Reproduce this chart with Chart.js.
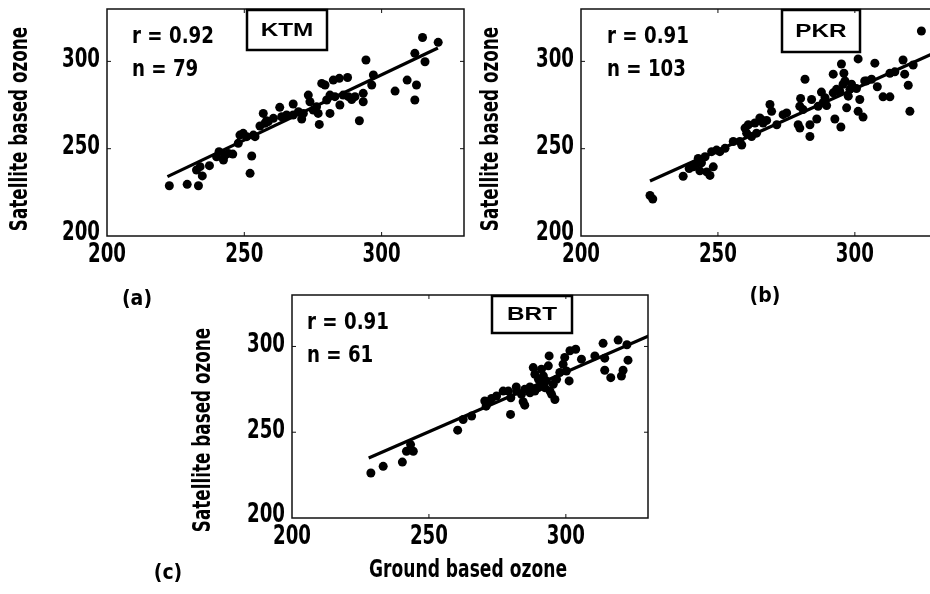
<!DOCTYPE html>
<html>
<head>
<meta charset="utf-8"/>
<title>Satellite vs ground based ozone</title>
<script src="https://cdn.jsdelivr.net/npm/chart.js"></script>
<style>
html, body { margin: 0; padding: 0; background: #fff; overflow: hidden; }
#wrap { position: relative; width: 930px; height: 594px; overflow: hidden; }
canvas { position: absolute; left: 0; top: 0; }
</style>
</head>
<body>
<div id="wrap">
  <canvas id="cA" width="930" height="594"></canvas>
  <canvas id="cB" width="950" height="594"></canvas>
  <canvas id="cC" width="930" height="594"></canvas>
</div>
<script>
// ---- data ----
const axisMin = 200;
const axisMax = 330;
const tickVals = [200, 250, 300];
const innerTicks = [250, 300];

// (a) KTM
const ktmGround = [222.7,229.2,233.3,234.7,233.9,237.3,240.8,242.4,243.0,245.8,248.4,250.9,252.1,252.7,253.9,256.9,257.5,258.7,262.9,263.6,267.8,267.8,270.9,273.3,273.9,276.9,277.3,278.2,281.2,281.2,282.4,284.6,284.8,287.6,287.9,290.3,291.9,293.3,294.3,296.4,297.0,304.9,309.3,312.1,312.7,312.1,315.8,314.9,320.6,249.6,247.8,255.7,260.6,265.4,269.7,275.1,280.0,283.0,286.0,239.9,244.2,271.5,279.4,293.3,258.1,253.3,276.3,289.1,232.6];
const ktmSat    = [228.8,229.6,228.8,234.4,239.7,240.3,248.3,243.5,246.4,246.9,257.8,256.9,235.9,245.8,256.9,270.2,264.5,265.5,273.7,268.3,275.6,269.3,267.0,280.7,276.9,270.2,263.9,287.4,270.2,280.7,289.3,290.3,275.0,290.8,279.8,279.8,266.0,276.9,300.8,286.5,292.2,283.0,289.3,277.9,286.5,304.6,299.8,313.7,310.9,258.8,253.1,263.0,267.4,269.3,271.2,272.1,277.9,279.8,280.7,245.4,247.3,270.2,286.5,281.7,266.0,257.8,274.0,278.2,237.8];
const ktmFitX = [222, 320.5];
const ktmFitY = [234, 307.7];

// (b) PKR
const pkrGround = [225.2,226.2,237.3,239.5,242.8,243.4,245.9,247.1,245.3,247.7,248.3,249.5,252.6,258.0,258.7,260.5,261.1,262.3,264.1,265.3,266.5,269.0,269.6,271.5,275.1,279.3,279.9,280.2,279.9,281.8,283.6,283.6,284.2,286.1,286.6,287.8,289.7,292.1,292.1,292.7,294.5,294.9,295.1,296.0,296.4,297.0,297.6,298.8,301.2,301.2,301.8,303.0,303.6,307.3,308.2,310.3,312.8,317.6,318.2,319.5,320.1,321.3,324.3,250.7,255.6,263.5,267.8,273.8,281.1,288.4,293.3,298.2,300.6,304.3,306.1,312.8,314.6,242.2,241.0,244.0,289.1,295.7,259.9,265.9];
const pkrSat    = [223.2,221.2,234.2,238.6,244.4,237.3,236.7,234.7,245.4,248.3,239.6,249.2,250.2,254.1,252.1,258.9,263.7,257.0,258.9,267.6,264.7,275.3,271.4,263.7,270.5,263.7,261.8,278.8,274.3,289.8,257.0,263.7,278.2,267.0,274.3,282.4,274.7,282.0,292.7,267.0,283.0,262.4,298.5,293.2,288.8,273.4,280.1,286.9,301.4,271.4,278.2,268.1,288.8,299.0,285.5,279.7,279.7,300.8,292.7,286.3,271.4,297.9,317.4,248.3,254.1,264.7,266.2,269.5,272.4,276.3,284.0,284.0,284.4,288.8,289.8,293.2,294.0,241.5,239.6,241.9,279.2,286.9,261.8,266.6];
const pkrFitX = [225.2, 330];
const pkrFitY = [231.5, 305.5];

// (c) BRT
const brtGround = [228.8,233.3,240.3,241.8,244.3,243.3,260.5,262.5,265.6,270.4,272.9,270.9,277.1,279.8,279.9,281.9,283.8,284.4,285.0,286.9,288.7,290.0,291.1,292.9,293.6,293.9,294.2,295.4,296.0,296.6,299.6,300.2,301.2,301.5,303.6,305.7,310.6,313.6,314.2,314.2,316.4,319.1,320.3,320.9,322.3,322.7,282.0,285.0,291.1,292.3,290.0,288.7,297.8,286.9,279.0,274.7,291.8,299.0,288.1,272.3,294.8];
const brtSat    = [226.2,230.1,232.6,238.9,238.9,242.8,251.2,257.4,259.4,268.2,269.7,265.2,274.0,260.4,270.1,276.4,272.1,267.8,265.8,276.4,283.8,276.0,286.7,279.9,288.7,294.5,274.0,277.9,269.1,280.9,293.6,285.7,279.9,297.5,298.4,292.6,294.5,301.8,293.2,286.1,281.8,303.7,282.8,286.1,301.0,292.0,274.0,275.0,279.9,276.0,280.9,274.0,284.8,273.0,274.0,271.1,282.8,289.6,287.7,268.2,272.1];
const brtFitX = [228, 330.3];
const brtFitY = [235, 306.1];

const FONT = '"DejaVu Sans", sans-serif';

function drawText(ctx, txt, x, y, font, sx, align, baseline, rot) {
  ctx.save();
  ctx.translate(x, y);
  if (rot) ctx.rotate(rot);
  ctx.scale(sx, 1);
  ctx.font = font;
  ctx.textAlign = align;
  ctx.textBaseline = baseline;
  ctx.fillStyle = '#000';
  ctx.fillText(txt, 0, 0);
  ctx.restore();
}

function makePanel(id, ground, sat, fitX, fitY, cfg) {
  const canvas = document.getElementById(id);
  const W = canvas.width, H = canvas.height;
  const pts = ground.map((g, i) => ({ x: g, y: sat[i] }));
  const fit = fitX.map((fx, i) => ({ x: fx, y: fitY[i] }));

  const panelDeco = {
    id: 'panelDeco',
    afterDraw(chart) {
      const ctx = chart.ctx;
      const a = chart.chartArea;
      const xs = chart.scales.x, ys = chart.scales.y;
      ctx.save();
      ctx.strokeStyle = '#111';
      ctx.lineWidth = 1.5;
      ctx.strokeRect(a.left, a.top, a.right - a.left, a.bottom - a.top);
      ctx.lineWidth = 1;
      ctx.beginPath();
      innerTicks.forEach(v => {
        const px = xs.getPixelForValue(v);
        ctx.moveTo(px, a.bottom); ctx.lineTo(px, a.bottom - 4);
        ctx.moveTo(px, a.top); ctx.lineTo(px, a.top + 4);
        const py = ys.getPixelForValue(v);
        ctx.moveTo(a.left, py); ctx.lineTo(a.left + 4, py);
        ctx.moveTo(a.right, py); ctx.lineTo(a.right - 4, py);
      });
      ctx.stroke();
      ctx.restore();

      const tickFont = 'bold 26px ' + FONT;
      tickVals.forEach(v => {
        drawText(ctx, String(v), xs.getPixelForValue(v), a.bottom + 19, tickFont, 0.70, 'center', 'middle');
        const py = ys.getPixelForValue(v) - (v === axisMin ? 3 : 1);
        drawText(ctx, String(v), a.left - 7, py, tickFont, 0.70, 'right', 'middle');
      });

      const annFont = 'bold 22.5px ' + FONT;
      drawText(ctx, 'r = ' + cfg.r, a.left + cfg.textDx, a.top + 34, annFont, 0.81, 'left', 'alphabetic');
      drawText(ctx, 'n = ' + cfg.n, a.left + cfg.textDx, a.top + 67, annFont, 0.81, 'left', 'alphabetic');

      ctx.save();
      ctx.strokeStyle = '#000';
      ctx.lineWidth = 2.5;
      ctx.strokeRect(cfg.site[0], cfg.site[1], cfg.site[2] - cfg.site[0], cfg.site[3] - cfg.site[1]);
      ctx.restore();
      drawText(ctx, cfg.name, (cfg.site[0] + cfg.site[2]) / 2, (cfg.site[1] + cfg.site[3]) / 2 + 1,
        'bold 18px "Liberation Sans", Arial, sans-serif', 1.35, 'center', 'middle');

      drawText(ctx, 'Satellite based ozone', cfg.ylab[0], cfg.ylab[1], 'bold 24px ' + FONT, 0.70, 'center', 'middle', -Math.PI / 2);
      drawText(ctx, cfg.tag, cfg.tagPos[0], cfg.tagPos[1], 'bold 21px ' + FONT, 0.9, 'center', 'middle');
      if (cfg.xlab) {
        drawText(ctx, 'Ground based ozone', cfg.xlab[0], cfg.xlab[1], 'bold 25px ' + FONT, 0.685, 'center', 'middle');
      }
    }
  };

  return new Chart(canvas, {
    type: 'scatter',
    data: {
      datasets: [{
        data: pts,
        pointRadius: 4.5,
        pointBackgroundColor: '#000',
        pointBorderWidth: 0
      }, {
        type: 'line',
        data: fit,
        borderColor: '#000',
        borderWidth: 3.2,
        pointRadius: 0,
        fill: false
      }]
    },
    options: {
      responsive: false,
      animation: false,
      events: [],
      layout: { padding: { left: cfg.box[0], top: cfg.box[1], right: W - cfg.box[2], bottom: H - cfg.box[3] } },
      plugins: { legend: { display: false }, tooltip: { enabled: false } },
      scales: {
        x: { type: 'linear', min: axisMin, max: axisMax, display: false },
        y: { type: 'linear', min: axisMin, max: axisMax, display: false }
      }
    },
    plugins: [panelDeco]
  });
}

makePanel('cA', ktmGround, ktmSat, ktmFitX, ktmFitY, {
  box: [107, 9, 464, 236], r: '0.92', n: '79', textDx: 25, name: 'KTM',
  site: [247, 10, 327, 50], ylab: [21, 129], tag: '(a)', tagPos: [137, 300]
});
makePanel('cB', pkrGround, pkrSat, pkrFitX, pkrFitY, {
  box: [581, 9, 937, 236], r: '0.91', n: '103', textDx: 26, name: 'PKR',
  site: [782, 10, 860, 52], ylab: [492, 129], tag: '(b)', tagPos: [765, 297]
});
makePanel('cC', brtGround, brtSat, brtFitX, brtFitY, {
  box: [292, 295, 648, 518], r: '0.91', n: '61', textDx: 15, name: 'BRT',
  site: [492, 296, 572, 333], ylab: [204, 430], tag: '(c)', tagPos: [168, 574],
  xlab: [468, 570]
});
</script>
</body>
</html>
